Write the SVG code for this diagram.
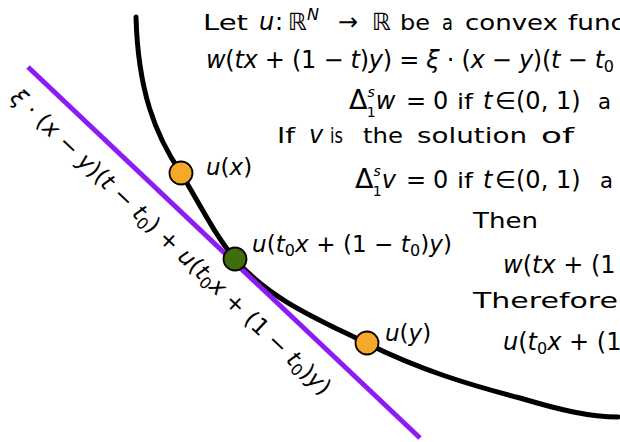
<svg xmlns="http://www.w3.org/2000/svg" width="620" height="442" viewBox="0 0 620 442">
<style>
text{font-family:"DejaVu Sans","Liberation Sans",sans-serif;font-size:24px;fill:#000}
.h{font-size:21px}
.i{font-style:italic}
.s{font-size:14px}
.b{font-size:16px}
.l{font-size:23px}
.d{font-size:27px}
.pt{stroke:#000;stroke-width:1.8}
</style>
<rect width="620" height="442" fill="#fff"/>
<g id="connectors">
<path id="curve" d="M136,17 C138,90 155,135 181,173 C200,205 215,235 235,259 C270,300 320,320 366,343 C420,370 470,385 520,398 C560,410 590,417 618,417" fill="none" stroke="#000" stroke-width="5" stroke-linecap="round"/>
<line id="tangent" x1="28" y1="67" x2="420" y2="438" stroke="#8c1cf2" stroke-width="5"/>
<text id="tangent-label" class="l" transform="translate(9,99) rotate(43.5)" textLength="432"><tspan class="i">ξ</tspan> · (<tspan class="i">x</tspan> − <tspan class="i">y</tspan>)(<tspan class="i">t</tspan> − <tspan class="i">t</tspan><tspan class="b" dy="4">0</tspan><tspan dy="-4">) + </tspan><tspan class="i">u</tspan>(<tspan class="i">t</tspan><tspan class="b" dy="4">0</tspan><tspan class="i" dy="-4">x</tspan> + (1 − <tspan class="i">t</tspan><tspan class="b" dy="4">0</tspan><tspan dy="-4">)</tspan><tspan class="i">y</tspan>)</text>
</g>
<g id="node-ux">
<circle class="pt" cx="181" cy="173" r="11.5" fill="#f5a82a"/>
<text class="l" x="206" y="175"><tspan class="i">u</tspan>(<tspan class="i">x</tspan>)</text>
</g>
<g id="node-ut0">
<circle class="pt" cx="235" cy="259" r="11.5" fill="#3d6e0a"/>
<text class="l" x="252" y="252" textLength="200"><tspan class="i">u</tspan>(<tspan class="i">t</tspan><tspan class="b" dy="4">0</tspan><tspan class="i" dy="-4">x</tspan> + (1 − <tspan class="i">t</tspan><tspan class="b" dy="4">0</tspan><tspan dy="-4">)</tspan><tspan class="i">y</tspan>)</text>
</g>
<g id="node-uy">
<circle class="pt" cx="367" cy="343" r="11.5" fill="#f5a82a"/>
<text class="l" x="385" y="341"><tspan class="i">u</tspan>(<tspan class="i">y</tspan>)</text>
</g>
<g id="statement">
<text class="h" x="203" y="30" textLength="45" lengthAdjust="spacingAndGlyphs">Let</text>
<text y="30"><tspan class="i" x="259">u</tspan><tspan x="275">:</tspan><tspan x="288">ℝ</tspan><tspan class="b i" dy="-10">N</tspan><tspan x="338" dy="10">→</tspan><tspan x="372">ℝ</tspan></text>
<text class="h" x="400" y="30" textLength="30" lengthAdjust="spacingAndGlyphs">be</text>
<text class="h" x="442" y="30" textLength="11" lengthAdjust="spacingAndGlyphs">a</text>
<text class="h" x="465" y="30" textLength="93" lengthAdjust="spacingAndGlyphs">convex</text>
<text class="h" x="568" y="30" textLength="57" lengthAdjust="spacingAndGlyphs">func</text>
<text x="206" y="68" textLength="408"><tspan class="i">w</tspan>(<tspan class="i">tx</tspan> + (1 − <tspan class="i">t</tspan>)<tspan class="i">y</tspan>) = <tspan class="i">ξ</tspan> · (<tspan class="i">x</tspan> − <tspan class="i">y</tspan>)(<tspan class="i">t</tspan> − <tspan class="i">t</tspan><tspan class="b" dy="4">0</tspan></text>
<text y="109"><tspan class="d" x="349">Δ</tspan><tspan class="s i" dy="-12">s</tspan><tspan class="s" dx="-8" dy="20">1</tspan><tspan class="i" dy="-8">w</tspan><tspan x="406">=</tspan><tspan x="433">0</tspan></text>
<text class="h" x="457" y="109" textLength="16" lengthAdjust="spacingAndGlyphs">if</text>
<text y="109"><tspan class="i" x="483">t</tspan><tspan x="495">∈</tspan><tspan x="516">(0, 1)</tspan></text>
<text class="h" x="598" y="109" textLength="13" lengthAdjust="spacingAndGlyphs">a</text>
<text class="h" x="277" y="143" textLength="18" lengthAdjust="spacingAndGlyphs">If</text>
<text class="i" x="309" y="143">v</text>
<text class="h" x="330" y="143" textLength="13" lengthAdjust="spacingAndGlyphs">is</text>
<text class="h" x="363" y="143" textLength="40" lengthAdjust="spacingAndGlyphs">the</text>
<text class="h" x="417" y="143" textLength="110" lengthAdjust="spacingAndGlyphs">solution</text>
<text class="h" x="541" y="143" textLength="33" lengthAdjust="spacingAndGlyphs">of</text>
<text y="188"><tspan class="d" x="355">Δ</tspan><tspan class="s i" dy="-12">s</tspan><tspan class="s" dx="-8" dy="20">1</tspan><tspan class="i" dy="-8">v</tspan><tspan x="406">=</tspan><tspan x="433">0</tspan></text>
<text class="h" x="457" y="188" textLength="16" lengthAdjust="spacingAndGlyphs">if</text>
<text y="188"><tspan class="i" x="483">t</tspan><tspan x="495">∈</tspan><tspan x="516">(0, 1)</tspan></text>
<text class="h" x="600" y="188" textLength="13" lengthAdjust="spacingAndGlyphs">a</text>
<text class="h" x="473" y="228" textLength="65" lengthAdjust="spacingAndGlyphs">Then</text>
<text x="503" y="273"><tspan class="i">w</tspan>(<tspan class="i">tx</tspan> + (1</text>
<text class="h" x="473" y="308" textLength="145" lengthAdjust="spacingAndGlyphs">Therefore</text>
<text x="503" y="350"><tspan class="i">u</tspan>(<tspan class="i">t</tspan><tspan class="b" dy="4">0</tspan><tspan class="i" dy="-4">x</tspan> + (1</text>
</g>
</svg>
